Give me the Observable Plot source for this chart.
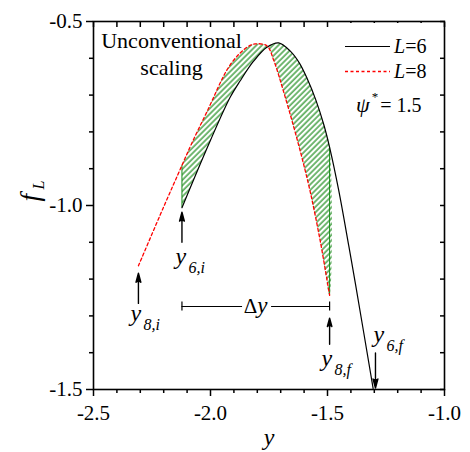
<!DOCTYPE html>
<html><head><meta charset="utf-8">
<script src="https://cdn.jsdelivr.net/npm/d3@7"></script>
<script src="https://cdn.jsdelivr.net/npm/@observablehq/plot@0.6"></script>
<style>
body{margin:0;background:#fff;}
#chart{width:470px;height:452px;}
</style></head><body><div id="chart"></div>
<script>
// ---- data ----
const l6X = [-2.122,-2.001,-1.916,-1.873,-1.816,-1.759,-1.709,-1.660,-1.620,-1.587,-1.550,-1.516,-1.491,-1.452,-1.409,-1.380,-1.305];
const l6F = [-1.006,-0.824,-0.706,-0.661,-0.608,-0.570,-0.558,-0.580,-0.613,-0.655,-0.713,-0.780,-0.842,-0.959,-1.110,-1.215,-1.497];
const l8X = [-2.308,-2.201,-2.122,-2.080,-2.015,-1.916,-1.844,-1.809,-1.759,-1.730,-1.688,-1.645,-1.610,-1.573,-1.530,-1.491];
const l8F = [-1.164,-1.005,-0.891,-0.831,-0.745,-0.618,-0.570,-0.561,-0.566,-0.605,-0.690,-0.785,-0.868,-0.965,-1.100,-1.244];
const hatchX = [-2.122, -1.491];           // y_6,i and y_8,f
const xMajor = [-2.5, -2.0, -1.5, -1.0];
const xMinor = [-2.4,-2.3,-2.2,-2.1,-1.9,-1.8,-1.7,-1.6,-1.4,-1.3,-1.2,-1.1];
const yMajor = [-1.5, -1.0, -0.5];
const yMinor = [-1.4,-1.3,-1.2,-1.1,-0.9,-0.8,-0.7,-0.6];
const arrowX    = [-2.122, -2.308, -1.491, -1.295];
const arrowFrom = [-1.100, -1.266, -1.377, -1.401];
const arrowTo   = [-1.018, -1.184, -1.306, -1.496];
const labelX   = [-2.150, -2.342, -1.526, -1.303];
const labelF   = [-1.160, -1.315, -1.435, -1.372];
const labelSub = ["6,i", "8,i", "8,f", "6,f"];
const deltaX = [-2.122, -1.863, -1.739, -1.491]; // bar start, gap start, gap end, bar end
const deltaF = -1.2745;
const deltaText = {x: -1.80, f: -1.293};
const legendLabels = ["6", "8"];
const psiStar = "1.5";

// ---- build ----
const l6 = l6X.map((x, i) => ({x, f: l6F[i]}));
const l8 = l8X.map((x, i) => ({x, f: l8F[i]}));
const inH = d => d.x >= hatchX[0] - 1e-9 && d.x <= hatchX[1] + 1e-9;
const hatch = [...l6.filter(inH), ...l8.filter(inH).reverse()];
const edges = hatchX.map(x => ({x, f1: l6.find(d => d.x === x).f, f2: l8.find(d => d.x === x).f}));
const arrows = arrowX.map((x, i) => ({x, f1: arrowFrom[i], f2: arrowTo[i]}));
const labels = labelX.map((x, i) => ({x, f: labelF[i], sub: labelSub[i]}));
const bars = [{x1: deltaX[0], x2: deltaX[1]}, {x1: deltaX[2], x2: deltaX[3]}];
const ends = [deltaX[0], deltaX[3]];
const serif = "Liberation Serif";
const green = "#188a18";

const chart = Plot.plot({
  width: 470, height: 452,
  marginLeft: 93, marginRight: 26, marginTop: 21, marginBottom: 63,
  style: {"font-family": serif, "font-size": "21px", "background": "white", "color": "black"},
  x: {domain: [-2.5, -1.0]},
  y: {domain: [-1.5, -0.5]},
  marks: [
    Plot.line(hatch, {x: "x", y: "f", curve: "catmull-rom", fill: "url(#hatch)", stroke: "none"}),
    Plot.ruleX(edges, {x: "x", y1: "f1", y2: "f2", stroke: green, strokeWidth: 1}),
    Plot.line(l6, {x: "x", y: "f", curve: "catmull-rom", stroke: "black", strokeWidth: 1.2}),
    Plot.line(l8, {x: "x", y: "f", curve: "catmull-rom", stroke: "#ff0000", strokeWidth: 1.3, strokeDasharray: "3,2.5"}),
    Plot.arrow(arrows, {x1: "x", y1: "f1", x2: "x", y2: "f2", stroke: "black", fill: "black", strokeWidth: 1.4, headLength: 10, headAngle: 30}),
    Plot.text(labels, {x: "x", y: "f", text: () => "y", fontStyle: "italic", fontSize: 24, textAnchor: "start", lineAnchor: "bottom"}),
    Plot.text(labels, {x: "x", y: "f", text: "sub", fontStyle: "italic", fontSize: 16, textAnchor: "start", lineAnchor: "bottom", dx: 13, dy: 9}),
    Plot.ruleY(bars, {x1: "x1", x2: "x2", y: () => deltaF, stroke: "black", strokeWidth: 1.2}),
    Plot.ruleX(ends, {x: d => d, y1: () => deltaF - 0.012, y2: () => deltaF + 0.012, stroke: "black", strokeWidth: 1.2}),
    Plot.text([deltaText], {x: "x", y: "f", text: () => "Δ", fontSize: 21, textAnchor: "end", lineAnchor: "bottom"}),
    Plot.text([deltaText], {x: "x", y: "f", text: () => "y", fontSize: 23, fontStyle: "italic", textAnchor: "start", lineAnchor: "bottom"}),
    Plot.text(["Unconventional\nscaling"], {frameAnchor: "top-left", text: d => d, dx: 78, dy: 7, textAnchor: "middle", lineAnchor: "top", fontSize: 22, lineHeight: 1.23}),
    Plot.text(["y"], {frameAnchor: "bottom", text: d => d, dy: 55, fontSize: 24, fontStyle: "italic", lineAnchor: "bottom"}),
    Plot.text(["f"], {frameAnchor: "left", text: d => d, rotate: -90, dx: -55, dy: -4, fontSize: 27, fontStyle: "italic", textAnchor: "start", lineAnchor: "bottom"}),
    Plot.text(["L"], {frameAnchor: "left", text: d => d, rotate: -90, dx: -50, dy: -16, fontSize: 16, fontStyle: "italic", textAnchor: "start", lineAnchor: "bottom"}),
    Plot.axisX(xMajor, {anchor: "bottom", tickSize: 7, tickPadding: 9, tickFormat: d => d.toFixed(1), fontSize: 21, label: null, strokeWidth: 1.5}),
    Plot.axisX(xMinor, {anchor: "bottom", tickSize: 4, tickFormat: () => "", label: null, strokeWidth: 1.5}),
    Plot.axisX([...xMajor, ...xMinor], {anchor: "top", tickSize: -5, tickFormat: () => "", label: null, strokeWidth: 1.5}),
    Plot.axisY(yMajor, {anchor: "left", tickSize: 7, tickPadding: 4, tickFormat: d => d.toFixed(1), fontSize: 21, label: null, strokeWidth: 1.5}),
    Plot.axisY(yMinor, {anchor: "left", tickSize: 4, tickFormat: () => "", label: null, strokeWidth: 1.5}),
    Plot.axisY([...yMajor, ...yMinor], {anchor: "right", tickSize: -5, tickFormat: () => "", label: null, strokeWidth: 1.5}),
    Plot.frame({stroke: "black", strokeWidth: 1.6})
  ]
});
document.getElementById("chart").appendChild(chart);

const svg = d3.select(chart);
svg.attr("font-family", serif);
svg.selectAll("text").attr("font-family", serif);

// hatch pattern
svg.insert("defs", ":first-child").html(
  `<pattern id="hatch" width="3.9" height="8" patternUnits="userSpaceOnUse" patternTransform="rotate(45)">
     <rect x="1.4" y="0" width="1.2" height="8" fill="${green}"/>
   </pattern>`);

// legend (white box, as in the reference)
const lg = svg.append("g").attr("font-family", serif).attr("text-anchor", "start");
lg.append("rect").attr("x", 338).attr("y", 23).attr("width", 98).attr("height", 100).attr("fill", "white");
lg.append("line").attr("x1", 345).attr("x2", 390).attr("y1", 46.5).attr("y2", 46.5).attr("stroke", "black").attr("stroke-width", 1.2);
lg.append("line").attr("x1", 345).attr("x2", 390).attr("y1", 71.5).attr("y2", 71.5).attr("stroke", "#ff0000").attr("stroke-width", 1.3).attr("stroke-dasharray", "3,2.5");
legendLabels.forEach((v, i) => {
  const t = lg.append("text").attr("x", 394).attr("y", 53 + 25 * i).attr("font-size", 20);
  t.append("tspan").attr("font-style", "italic").text("L");
  t.append("tspan").text("=" + v);
});
const t3 = lg.append("text").attr("x", 356).attr("y", 112).attr("font-size", 20);
t3.append("tspan").attr("font-style", "italic").attr("font-size", 22).text("ψ");
t3.append("tspan").attr("font-size", 13).attr("dy", -11).attr("dx", 2).text("*");
t3.append("tspan").attr("dy", 11).attr("dx", 2).text("= " + psiStar);
</script></body></html>
